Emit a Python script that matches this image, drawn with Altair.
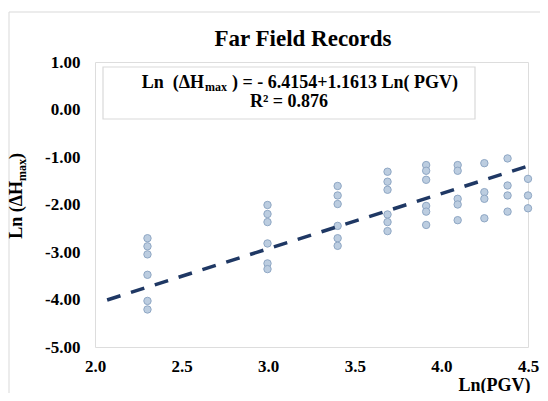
import altair as alt
import pandas as pd

# ---- data ----
ln_pgv = [2.303, 2.996, 3.401, 3.689, 3.912, 4.094, 4.248, 4.382, 4.500]
ln_dh = [
    [-2.71, -2.88, -3.05, -3.48, -4.03, -4.21],
    [-2.01, -2.20, -2.37, -2.82, -3.24, -3.36],
    [-1.61, -1.81, -1.99, -2.45, -2.71, -2.87],
    [-1.31, -1.52, -1.69, -2.21, -2.37, -2.56],
    [-1.17, -1.29, -1.48, -2.03, -2.15, -2.43],
    [-1.17, -1.29, -1.88, -2.00, -2.33],
    [-1.13, -1.74, -1.88, -2.29],
    [-1.03, -1.60, -1.81, -2.15],
    [-1.46, -1.81, -2.08],
]
trend_x = [2.07, 4.50]
trend_y = [-4.01, -1.19]
x_ticks = [2.0, 2.5, 3.0, 3.5, 4.0, 4.5]
y_ticks = [1, 0, -1, -2, -3, -4, -5]

title_text = "Far Field Records"
eq_part1 = "Ln\u00a0 (\u0394H"
eq_sub = "max"
eq_part2 = ") = - 6.4154+1.1613 Ln( PGV)"
eq_line2 = "R\u00b2 = 0.876"
ytitle_part1 = "Ln (\u0394H"
ytitle_sub = "max"
ytitle_part2 = " )"
xtitle = "Ln(PGV)"

rows = [{"x": x, "y": y} for x, ys in zip(ln_pgv, ln_dh) for y in ys]
pts = pd.DataFrame(rows)
trend = pd.DataFrame({"x": trend_x, "y": trend_y})
one = pd.DataFrame({"k": [0]})

FONT = "Liberation Serif"

xs = alt.Scale(domain=[2.0, 4.5], nice=False, zero=False)
ys = alt.Scale(domain=[-5, 1], nice=False, zero=False)

x_axis = alt.Axis(
    values=x_ticks, format=".1f", grid=False, ticks=False, tickSize=0, domain=False,
    labelFont=FONT, labelFontSize=17, labelFontWeight="bold", labelColor="#000",
    labelPadding=11, labelFlush=False, labelOverlap=False,
    title=xtitle, titleFont=FONT, titleFontSize=18, titleFontWeight="bold",
    titleColor="#000", titleAnchor="end", titleAlign="right", titleX=435, titleY=43,
    titleBaseline="alphabetic",
)
y_axis = alt.Axis(
    values=y_ticks, grid=False, ticks=False, tickSize=0, domain=False,
    labelExpr="(datum.value < 0 ? '-' : '') + format(abs(datum.value), '.2f')",
    labelFont=FONT, labelFontSize=17, labelFontWeight="bold", labelColor="#000",
    labelPadding=15, labelFlush=False, labelOverlap=False, title=None,
)

points = alt.Chart(pts).mark_point(
    shape="circle", filled=True, fill="#bccde0", stroke="#8fa7c4",
    strokeWidth=1, size=55, opacity=1,
).encode(
    x=alt.X("x:Q", scale=xs, axis=x_axis),
    y=alt.Y("y:Q", scale=ys, axis=y_axis),
)

line = alt.Chart(trend).mark_line(
    color="#1f3864", strokeWidth=3.5, strokeDash=[14, 11], clip=False,
).encode(x=alt.X("x:Q", scale=xs), y=alt.Y("y:Q", scale=ys))

box = alt.Chart(one).mark_rect(
    fill="white", stroke="#d9d9d9", strokeWidth=1.2,
).encode(x=alt.value(8), x2=alt.value(380), y=alt.value(5), y2=alt.value(57))

# faint outer chart-area border (top and left edges)
frame_top = alt.Chart(one).mark_rule(color="#d9d9d9", strokeWidth=1).encode(
    x=alt.value(-86), x2=alt.value(453), y=alt.value(-50))
frame_left = alt.Chart(one).mark_rule(color="#d9d9d9", strokeWidth=1).encode(
    x=alt.value(-86), y=alt.value(-50), y2=alt.value(339))

def txt(text, x, y, size=18, align="left", dy=0, angle=0, baseline="alphabetic"):
    props = dict(text=text, font=FONT, fontSize=size, fontWeight="bold",
                 color="#000", align=align, baseline=baseline, dy=dy)
    if angle:
        props["angle"] = angle
    return alt.Chart(one).mark_text(**props).encode(x=alt.value(x), y=alt.value(y))

title = txt(title_text, 208, -16, size=23, align="center")
eq = [
    txt(eq_part1, 109, 26, align="right"),
    txt(eq_sub, 110, 26, size=12, dy=3),
    txt(eq_part2, 137, 26),
    txt(eq_line2, 194, 45, align="center"),
]
yt = [
    txt(ytitle_part1, -73, 119, align="right", angle=270),
    txt(ytitle_sub, -73, 119, size=12, dy=4, angle=270),
    txt(ytitle_part2, -73, 97, angle=270),
]

chart = alt.layer(frame_top, frame_left, points, line, box, title, *eq, *yt).properties(
    width=433, height=285,
    autosize=alt.AutoSizeParams(type="none"),
    padding={"left": 87, "top": 54, "right": 12, "bottom": 46},
).configure_view(
    stroke="#7f7f7f", strokeWidth=1.5,
).configure(background="white")

chart.save("out.html", embed_options={"renderer": "svg", "actions": False})
